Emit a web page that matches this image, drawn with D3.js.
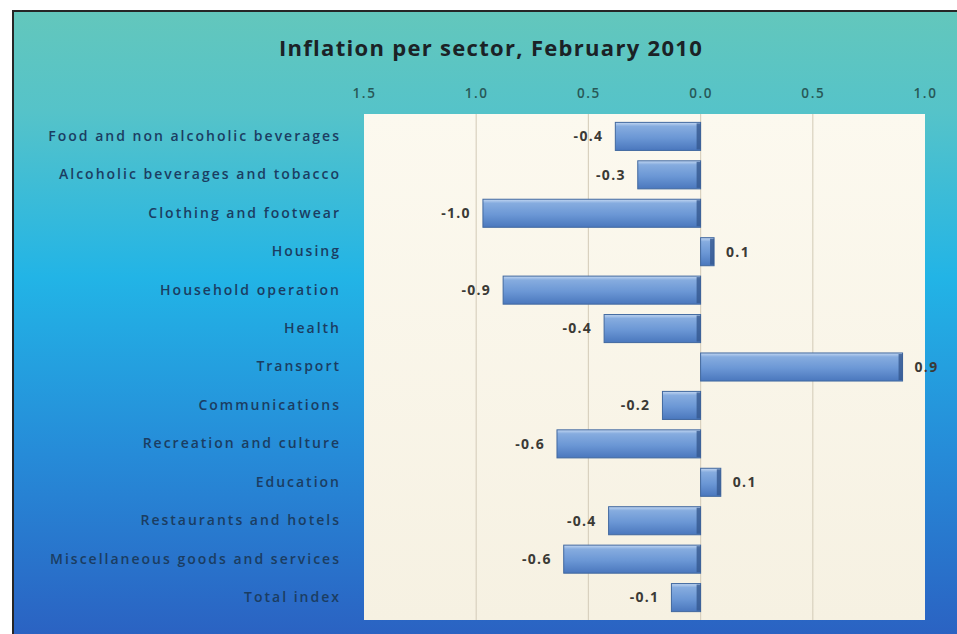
<!DOCTYPE html>
<html lang="en">
<head>
  <meta charset="UTF-8">
  <script src="https://d3js.org/d3.v7.min.js"></script>
  <title>Inflation per sector</title>
  <style>
    body { margin: 0; background: #fff; }
    svg { display: block; }
  </style>
</head>
<body>
  <script>
    // data
    const sectors = [
      "Food and non alcoholic beverages",
      "Alcoholic beverages and tobacco",
      "Clothing and footwear",
      "Housing",
      "Household operation",
      "Health",
      "Transport",
      "Communications",
      "Recreation and culture",
      "Education",
      "Restaurants and hotels",
      "Miscellaneous goods and services",
      "Total index"
    ];
    const inflation = [-0.38, -0.28, -0.97, 0.06, -0.88, -0.43, 0.9, -0.17, -0.64, 0.09, -0.41, -0.61, -0.13];
    const tickValues = [-1.5, -1.0, -0.5, 0.0, 0.5, 1.0];
    const tickLabels = ["1.5", "1.0", "0.5", "0.0", "0.5", "1.0"];
    const title = "Inflation per sector, February 2010";

    const width = 957, height = 634;
    const dataset = sectors.map((s, i) => ({ sector: s, value: inflation[i] }));

    const svg = d3.select("body").append("svg")
                  .attr("width", width)
                  .attr("height", height);

    /* gradients */
    const defs = svg.append("defs");
    const bg = defs.append("linearGradient").attr("id", "bg")
                   .attr("x1", 0).attr("y1", 0).attr("x2", 0).attr("y2", 1);
    [["0%", "#63c7bc"], ["16%", "#55c3c9"], ["42%", "#22b4e6"], ["70%", "#268bd8"], ["100%", "#2b60c1"]]
      .forEach(s => bg.append("stop").attr("offset", s[0]).attr("stop-color", s[1]));

    const plotBg = defs.append("linearGradient").attr("id", "plotBg")
                       .attr("x1", 0).attr("y1", 0).attr("x2", 0).attr("y2", 1);
    plotBg.append("stop").attr("offset", "0%").attr("stop-color", "#fcf9ef");
    plotBg.append("stop").attr("offset", "100%").attr("stop-color", "#f6f1e2");

    const barGrad = defs.append("linearGradient").attr("id", "barGrad")
                        .attr("x1", 0).attr("y1", 0).attr("x2", 0).attr("y2", 1);
    [["0%", "#c3d7f2"], ["14%", "#86acdf"], ["55%", "#6b97d5"], ["100%", "#4a77bd"]]
      .forEach(s => barGrad.append("stop").attr("offset", s[0]).attr("stop-color", s[1]));

    /* background + frame */
    svg.append("rect")
       .attr("x", 13).attr("y", 11)
       .attr("width", width).attr("height", height)
       .attr("fill", "url(#bg)")
       .attr("stroke", "#262626").attr("stroke-width", 2);

    /* scales */
    const xScale = d3.scaleLinear()
                     .domain([-1.5, 1.0])
                     .range([364, 925]);

    const yScale = d3.scaleBand()
                     .domain(sectors)
                     .range([112, 622])
                     .padding(0.27);

    /* plot area */
    svg.append("rect")
       .attr("x", xScale(-1.5)).attr("y", 114)
       .attr("width", xScale(1.0) - xScale(-1.5)).attr("height", 506)
       .attr("fill", "url(#plotBg)");

    svg.append("g")
       .selectAll("line")
       .data(tickValues.filter(v => v > -1.5 && v < 1.0))
       .enter()
       .append("line")
       .attr("x1", d => xScale(d)).attr("x2", d => xScale(d))
       .attr("y1", 114).attr("y2", 620)
       .attr("stroke", "#d9d1bf").attr("stroke-width", 1.2);

    /* title */
    svg.append("text")
       .attr("x", 491).attr("y", 56)
       .attr("text-anchor", "middle")
       .style("font-family", "'Open Sans', sans-serif")
       .style("font-weight", "700")
       .style("font-size", "22px")
       .style("letter-spacing", "1.3px")
       .attr("fill", "#1b2226")
       .text(title);

    /* axes */
    const xAxis = d3.axisTop(xScale)
                    .tickValues(tickValues)
                    .tickFormat((d, i) => tickLabels[i])
                    .tickSize(0)
                    .tickPadding(0);

    svg.append("g")
       .attr("transform", "translate(0, 98)")
       .call(xAxis)
       .call(g => g.select(".domain").remove())
       .selectAll("text")
       .style("font-family", "'Open Sans', sans-serif")
       .style("font-size", "13.5px")
       .style("font-weight", "600")
       .style("letter-spacing", "1.6px")
       .attr("fill", "#285857");

    const yAxis = d3.axisLeft(yScale).tickSize(0).tickPadding(0);

    svg.append("g")
       .attr("transform", "translate(341, 0)")
       .call(yAxis)
       .call(g => g.select(".domain").remove())
       .selectAll("text")
       .style("font-family", "'Open Sans', sans-serif")
       .style("font-size", "14px")
       .style("font-weight", "600")
       .style("letter-spacing", "2px")
       .attr("fill", "#1b3d62");

    /* bars */
    const bars = svg.append("g").selectAll("g")
                    .data(dataset)
                    .enter()
                    .append("g");

    bars.append("rect")
        .attr("x", d => xScale(Math.min(0, d.value)))
        .attr("y", d => yScale(d.sector))
        .attr("width", d => Math.abs(xScale(d.value) - xScale(0)))
        .attr("height", yScale.bandwidth())
        .attr("fill", "url(#barGrad)")
        .attr("stroke", "#41689f")
        .attr("stroke-width", 1);

    // darker bevel on the right end of each bar
    bars.append("rect")
        .attr("x", d => xScale(Math.max(0, d.value)) - 4)
        .attr("y", d => yScale(d.sector) + 1)
        .attr("width", 4)
        .attr("height", yScale.bandwidth() - 2)
        .attr("fill", "#34588f")
        .attr("opacity", 0.8);

    /* data labels */
    bars.append("text")
        .attr("x", d => d.value < 0 ? xScale(d.value) - 12 : xScale(d.value) + 12)
        .attr("y", d => yScale(d.sector) + yScale.bandwidth() / 2)
        .attr("dy", "0.35em")
        .attr("text-anchor", d => d.value < 0 ? "end" : "start")
        .style("font-family", "'Open Sans', sans-serif")
        .style("font-size", "14px")
        .style("font-weight", "700")
        .style("letter-spacing", "1.3px")
        .attr("fill", "#3b3a36")
        .text(d => d3.format(".1f")(d.value).replace("\u2212", "-"));
  </script>
</body>
</html>
